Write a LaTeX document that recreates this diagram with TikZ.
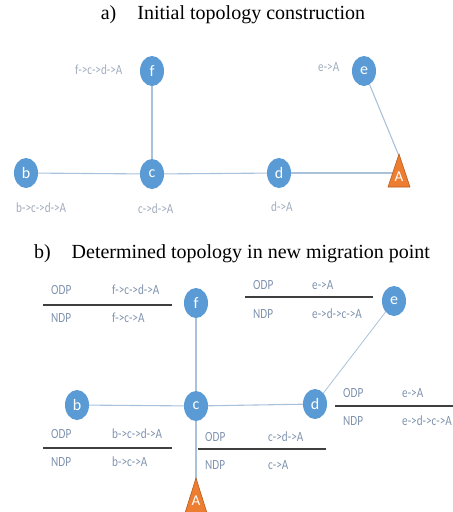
\documentclass[tikz,border=0pt]{standalone}
\usepackage{fontspec}
\setmainfont{Liberation Serif}
\newfontfamily\lblfont{Carlito}
\newfontfamily\lblnarrow[FakeStretch=0.8]{Carlito}
\usetikzlibrary{shapes.geometric,backgrounds}
\definecolor{nodeblue}{HTML}{5B9BD5}
\definecolor{edgecol}{HTML}{A9C2DA}
\definecolor{lblA}{HTML}{A0ACBE}
\definecolor{lblB}{HTML}{7F93AE}
\definecolor{tblcol}{HTML}{3F3F3F}
\definecolor{apex}{HTML}{ED7D31}
\definecolor{apexdark}{HTML}{B85A1C}
\begin{document}
\begin{tikzpicture}[x=1pt,y=-1pt,
  vtx/.style={ellipse,fill=nodeblue,minimum width=24pt,minimum height=30pt,inner sep=0pt,
    text=white,font=\lblfont\fontsize{16}{16}\selectfont},
  apexlbl/.style={inner sep=0pt,text=white,font=\lblfont\fontsize{15}{15}\selectfont},
  tri/.style={fill=apex,draw=apexdark,line width=0.6pt},
  link/.style={draw=edgecol,line width=1.1pt},
  lbla/.style={anchor=west,inner sep=0pt,text=lblA,font=\lblnarrow\fontsize{14}{15}\selectfont},
  lblb/.style={anchor=west,inner sep=0pt,text=lblB,font=\lblnarrow\fontsize{14}{15}\selectfont},
  tline/.style={draw=tblcol,line width=1.3pt},
  ttl/.style={inner sep=0pt,font=\fontsize{20}{24}\selectfont}]
\useasboundingbox (0,0) rectangle (453,512);

% ---------- a) ----------
\node[ttl] (ta) at (233,15) {a)\hspace{1.05em}Initial topology construction};

\node[vtx] (fa) at (152,71) {f};
\node[vtx] (ea) at (364,71) {e};
\node[vtx] (ba) at (26,173) {b};
\node[vtx] (ca) at (152,174) {c};
\node[vtx] (da) at (279,173) {d};
\fill[tri] (388,187) -- (399,154) -- (410,187) -- cycle;
\node[apexlbl] (Aa) at (399,177) {A};
\coordinate (Aatop) at (399,156);

\begin{scope}[on background layer]
  \draw[link] (ba.center) -- (ca.center);
  \draw[link] (ca.center) -- (da.center);
  \draw[link] (da.center) -- (Aa.center |- da.center);
  \draw[link] (fa.center) -- (ca.center);
  \draw[link] (ea) -- (Aatop);
\end{scope}

\node[lbla] (lfa) at (75,70) {f->c->d->A};
\node[lbla] (lea) at (318,67) {e->A};
\node[lbla] (lba) at (16,208) {b->c->d->A};
\node[lbla] (lca) at (138,209) {c->d->A};
\node[lbla] (lda) at (271,207) {d->A};

% ---------- b) ----------
\node[ttl] (tb) at (232,254) {b)\hspace{1.05em}Determined topology in new migration point};

\node[vtx] (fb) at (196,303) {f};
\node[vtx] (eb) at (394,301) {e};
\node[vtx] (bb) at (77,405) {b};
\node[vtx] (cb) at (196,406) {c};
\node[vtx] (db) at (315,404) {d};
\fill[tri] (185,513) -- (196,478) -- (207,513) -- cycle;
\node[apexlbl] (Ab) at (196,501) {A};
\coordinate (Abtop) at (196,480);

\begin{scope}[on background layer]
  \draw[link] (fb.center) -- (cb.center);
  \draw[link] (bb.center) -- (cb.center);
  \draw[link] (cb.center) -- (db.center);
  \draw[link,line width=0.8pt] (db) -- (eb);
  \draw[link] (cb.center) -- (Abtop);
\end{scope}

% f table
\node[lblb] (fo) at (51,290) {ODP};
\node[lblb] (fop) at (112,290) {f->c->d->A};
\draw[tline] (43,305) -- (172,305);
\node[lblb] (fn) at (51,318) {NDP};
\node[lblb] (fnp) at (112,318) {f->c->A};

% e table
\node[lblb] (eo) at (253,285) {ODP};
\node[lblb] (eop) at (312,285) {e->A};
\draw[tline] (245,297) -- (373,297);
\node[lblb] (en) at (253,314) {NDP};
\node[lblb] (enp) at (312,314) {e->d->c->A};

% d table
\node[lblb] (do) at (343,393) {ODP};
\node[lblb] (dop) at (402,393) {e->A};
\draw[tline] (335,406) -- (453,406);
\node[lblb] (dn) at (343,421) {NDP};
\node[lblb] (dnp) at (402,421) {e->d->c->A};

% b table
\node[lblb] (bo) at (51,434) {ODP};
\node[lblb] (bop) at (112,434) {b->c->d->A};
\draw[tline] (43,448) -- (172,448);
\node[lblb] (bn) at (51,462) {NDP};
\node[lblb] (bnp) at (112,462) {b->c->A};

% c table
\node[lblb] (co) at (205,437) {ODP};
\node[lblb] (cop) at (268,437) {c->d->A};
\draw[tline] (198,449) -- (326,449);
\node[lblb] (cn) at (205,465) {NDP};
\node[lblb] (cnp) at (268,465) {c->A};
\end{tikzpicture}
\end{document}
